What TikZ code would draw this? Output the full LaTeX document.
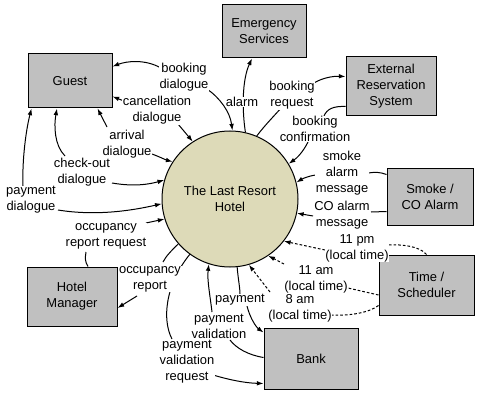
\documentclass[tikz,border=0pt]{standalone}
\usepackage{fontspec}
\setmainfont{Liberation Sans}
\usetikzlibrary{arrows.meta,calc,backgrounds}
\definecolor{boxgray}{RGB}{192,192,192}
\definecolor{procfill}{RGB}{221,218,184}
\pgfdeclarelayer{canvas}
\pgfsetlayers{canvas,background,main}
\begin{document}
\begin{tikzpicture}[x=0.75pt,y=-0.75pt,
  every node/.style={font=\fontsize{9.7}{12}\selectfont},
  ent/.style={draw=black,line width=0.75pt,fill=boxgray,align=center,inner sep=1pt},
  proc/.style={circle,draw=black,line width=0.75pt,fill=procfill,minimum size=102pt,align=center,inner sep=0pt},
  lbl/.style={fill=white,align=center,inner sep=0.5pt},
  flow/.style={line width=0.75pt,-{Latex[length=5pt,width=3.5pt]}},
  plain/.style={line width=0.75pt},
  tdash/.style={dash pattern=on 2pt off 1.5pt}
]
\useasboundingbox (0,0) rectangle (481,392);
\begin{pgfonlayer}{canvas}
\fill[white] (0,0) rectangle (481,392);
\end{pgfonlayer}

\node[proc] (hotel) at (230,199) {The Last Resort\\Hotel};
\node[ent,minimum width=63pt,minimum height=40.5pt] (guest) at (70,81) {Guest};
\node[ent,minimum width=63pt,minimum height=39.75pt] (es) at (264,31.5) {Emergency\\Services};
\node[ent,minimum width=67.5pt,minimum height=44.25pt] (ers) at (391,86.5) {External\\Reservation\\System};
\node[ent,minimum width=64.5pt,minimum height=42.75pt] (sca) at (430,196.5) {Smoke /\\CO Alarm};
\node[ent,minimum width=71.25pt,minimum height=45pt] (ts) at (426.5,285) {Time /\\Scheduler};
\node[ent,minimum width=70.5pt,minimum height=45.75pt] (bank) at (311,358.5) {Bank};
\node[ent,minimum width=67.5pt,minimum height=44.25pt] (hm) at (72,296.5) {Hotel\\Manager};

\node[lbl] (bd) at (184,77) {booking\\dialogue};
\node[lbl] (cd) at (157,110) {cancellation\\dialogue};
\node[lbl] (ad) at (127,144) {arrival\\dialogue};
\node[lbl] (cod) at (82,172) {check-out\\dialogue};
\node[lbl] (pd) at (31,200) {payment\\dialogue};
\node[lbl] (al) at (242,102) {alarm};
\node[lbl] (br) at (292,95) {booking\\request};
\node[lbl] (bc) at (315,129) {booking\\confirmation};
\node[lbl] (sm) at (342,173) {smoke\\alarm\\message};
\node[lbl] (co) at (342,215) {CO alarm\\message};
\node[lbl] (tp) at (357,248) {11 pm\\(local time)};
\node[lbl] (ta) at (316,279) {11 am\\(local time)};
\node[lbl] (ea) at (300,308) {8 am\\(local time)};
\node[lbl] (pm) at (240,300) {payment};
\node[lbl] (pv) at (219,326) {payment\\validation};
\node[lbl] (pvr) at (187,362) {payment\\validation\\request};
\node[lbl] (orr) at (106,236) {occupancy\\report request};
\node[lbl] (or) at (150,279) {occupancy\\report};

\begin{pgfonlayer}{background}
% booking dialogue
\draw[flow] ($(bd)+(-23,-9)$) .. controls (145,59) and (127,61) .. ($(guest.north east)+(0,13)$);
\draw[flow] ($(bd)+(23,12)$) .. controls (220,98) and (230,112) .. (hotel.88);
% cancellation dialogue
\draw[flow] ($(cd)+(-33,-9)$) -- ($(guest.south east)+(0,-12)$);
\draw[flow] ($(cd)+(21,14)$) -- (hotel.123);
% arrival dialogue
\draw[flow] ($(ad)+(-20,-17)$) -- ($(guest.south east)+(-15,0)$);
\draw[flow] ($(ad)+(25,10)$) .. controls (160,157) and (166,160) .. (hotel.147);
% check-out dialogue
\draw[flow] ($(cod)+(-17,-16)$) .. controls (54,145) and (54,125) .. ($(guest.south)+(-13,0)$);
\draw[flow] ($(cod)+(30,11)$) .. controls (135,187) and (150,184) .. (hotel.164);
% payment dialogue
\draw[flow] ($(pd)+(-8,-14)$) .. controls (22,160) and (26,130) .. ($(guest.south west)+(4,0)$);
\draw[flow] ($(pd)+(27,10)$) .. controls (95,216) and (130,211) .. (hotel.184);
% alarm
\draw[flow] (hotel.77) .. controls (242,110) and (242,80) .. ($(es.south)+(-12,0)$);
% booking request
\draw[plain] (hotel.67) .. controls (265,125) and (275,115) .. ($(br)+(-10,12)$);
\draw[flow] ($(br)+(22,-12)$) .. controls (322,78) and (333,76) .. ($(ers.north west)+(0,20)$);
% booking confirmation
\draw[plain] ($(ers.south west)+(0,-10)$) .. controls (333,106) and (327,109) .. ($(bc)+(9,-13)$);
\draw[flow] ($(bc)+(-7,13)$) .. controls (303,152) and (297,158) .. (hotel.31);
% smoke alarm message
\draw[plain] ($(sca.north west)+(0,7)$) .. controls (380,172) and (375,172) .. ($(sm)+(26,0)$);
\draw[flow] ($(sm)+(-26,2)$) .. controls (308,176) and (302,179) .. (hotel.14);
% CO alarm message
\draw[plain] ($(sca.south west)+(0,-14)$) -- ($(co)+(29,-3)$);
\draw[flow] ($(co)+(-29,1)$) -- (hotel.348);
% 11 pm
\draw[plain,tdash] (ts.north) .. controls (420,246) and (400,244) .. ($(tp)+(30,-3)$);
\draw[flow,tdash] ($(tp)+(-32,2)$) -- (hotel.322);
% 11 am
\draw[plain,tdash] ($(ts.west)+(0,10)$) -- ($(ta)+(32,9)$);
\draw[flow,tdash] ($(ta)+(-32,-15)$) -- (hotel.304);
% 8 am
\draw[plain,tdash] ($(ts.south west)+(0,-10)$) .. controls (370,312) and (352,316) .. ($(ea)+(32,7)$);
\draw[flow,tdash] ($(ea)+(-30,-16)$) -- (hotel.286);
% payment
\draw[plain] (hotel.276) .. controls (238,278) and (240,288) .. ($(pm)+(0,-6)$);
\draw[flow] ($(pm)+(7,6)$) .. controls (250,318) and (256,327) .. ($(bank.north west)+(0,5)$);
% payment validation
\draw[plain] ($(bank.west)+(0,-1)$) .. controls (248,355) and (236,348) .. ($(pv)+(11,14)$);
\draw[flow] ($(pv)+(-7,-14)$) .. controls (210,295) and (207,280) .. (hotel.252);
% payment validation request
\draw[plain] (hotel.234) .. controls (165,285) and (162,320) .. ($(pvr)+(-15,-23)$);
\draw[flow] ($(pvr)+(26,13)$) .. controls (230,380) and (245,383) .. ($(bank.south west)+(0,-6)$);
% occupancy report request
\draw[plain] ($(hm.north)+(16,0)$) .. controls (85,262) and (85,258) .. ($(orr)+(-20,16)$);
\draw[flow] ($(orr)+(40,-13)$) -- (hotel.197);
% occupancy report
\draw[plain] (hotel.221) .. controls (172,250) and (166,256) .. ($(or)+(13,-17)$);
\draw[flow] ($(or)+(-13,17)$) -- ($(hm.east)+(0,11.5)$);
\end{pgfonlayer}
\end{tikzpicture}
\end{document}
